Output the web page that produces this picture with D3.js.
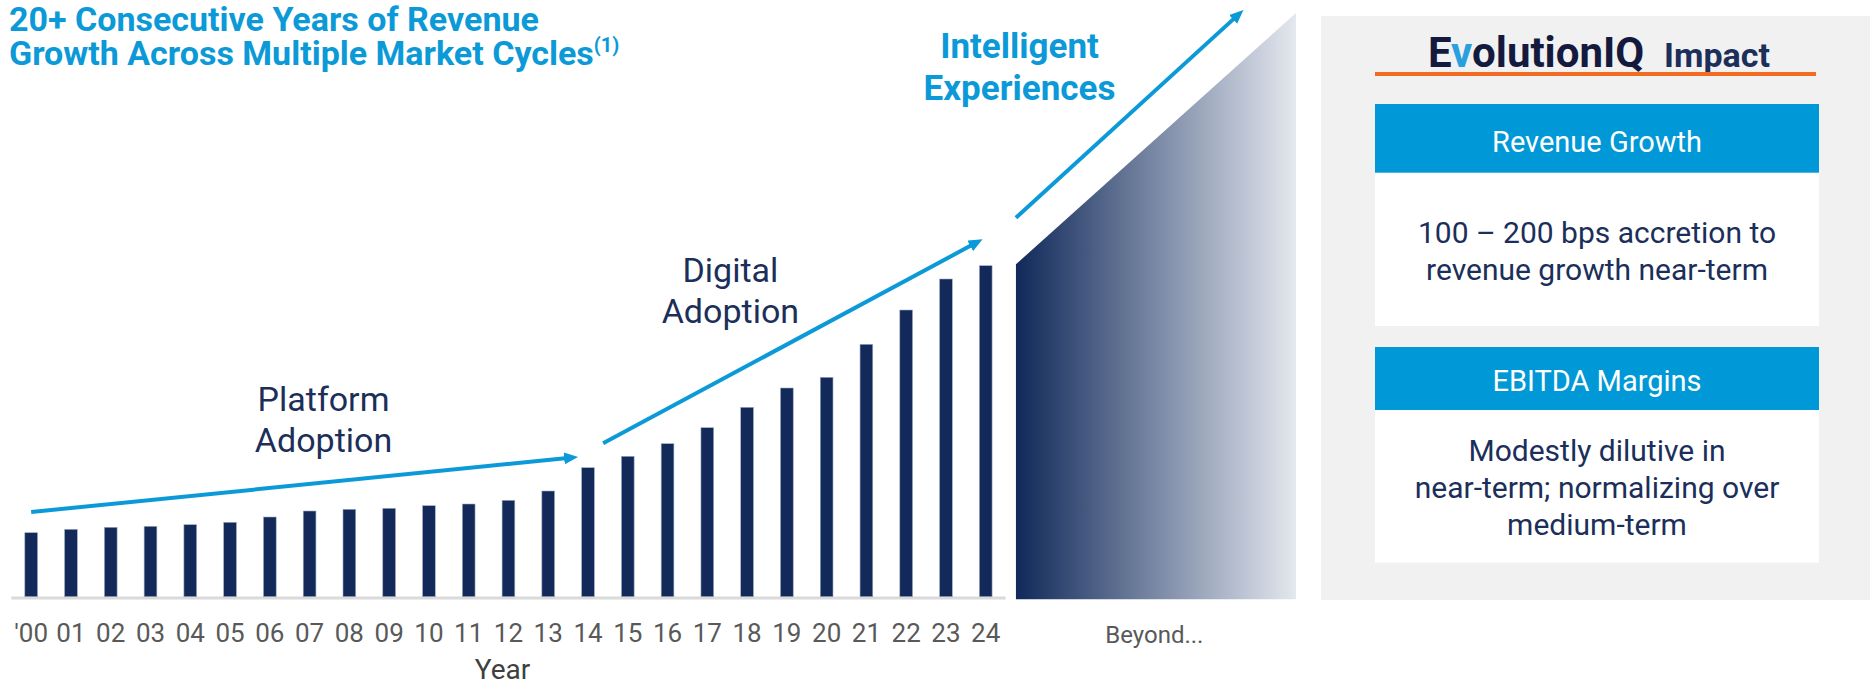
<!DOCTYPE html>
<html>
<meta charset="utf-8">
<head>
<style>
body { margin: 0; background: #fff; }
svg text { font-family: Roboto, "Open Sans", sans-serif; }
.yearTick text { fill: #595959; font-size: 26px; }
.phase { fill: #1b2f5a; font-size: 34px; text-anchor: middle; }
.panelText { fill: #1b2f5a; font-size: 30px; text-anchor: middle; }
.headText { fill: #fff; font-size: 29px; text-anchor: middle; }
</style>
</head>
<body>
<script src="https://cdn.jsdelivr.net/npm/d3@7"></script>
<script>

// revenue index by year
var years = ["'00", "01", "02", "03", "04", "05", "06", "07", "08", "09", "10", "11", "12",
             "13", "14", "15", "16", "17", "18", "19", "20", "21", "22", "23", "24"];
var revenue = [64, 67.4, 69.4, 70.4, 72, 74.4, 79.7, 85.7, 87.4, 88.4, 91, 92.7, 96.4,
               105.7, 129, 140.4, 153, 169, 189.4, 208.7, 219.4, 252.4, 286.7, 317.7, 331];
var phaseLines = [["Platform", "Adoption"], ["Digital", "Adoption"], ["Intelligent", "Experiences"]];
var titleLines = ["20+ Consecutive Years of Revenue", "Growth Across Multiple Market Cycles"];
var impactHeads = ["Revenue Growth", "EBITDA Margins"];
var impactBodies = [["100 \u2013 200 bps accretion to", "revenue growth near-term"],
                    ["Modestly dilutive in", "near-term; normalizing over", "medium-term"]];

var navy = "#12295a", blue = "#0b9ad7";

var svg = d3.select("body").append("svg")
    .attr("width", 1870)
    .attr("height", 686);

var defs = svg.append("defs");
var grad = defs.append("linearGradient").attr("id", "beyondGrad")
    .attr("x1", "0%").attr("x2", "100%").attr("y1", "0%").attr("y2", "0%");
grad.append("stop").attr("offset", "0%").attr("stop-color", "#10295a");
grad.append("stop").attr("offset", "100%").attr("stop-color", "#e4e8ef");

defs.append("marker").attr("id", "head")
    .attr("viewBox", "0 0 14 12")
    .attr("markerWidth", 14).attr("markerHeight", 12)
    .attr("markerUnits", "userSpaceOnUse")
    .attr("refX", 6).attr("refY", 6)
    .attr("orient", "auto")
  .append("path")
    .attr("d", "M0,0 L14,6 L0,12 Z")
    .attr("fill", blue);

// scales
var x = d3.scaleBand()
    .domain(years)
    .range([11.3, 1005.6])
    .paddingInner(0.68)
    .paddingOuter(0.34);

var y = d3.scaleLinear()
    .domain([0, 350])
    .range([596.7, 246.7]);

// year index -> bar centre, used for annotations beyond the bars
var xi = d3.scaleLinear()
    .domain([0, years.length - 1])
    .range([x(years[0]) + x.bandwidth() / 2, x(years[years.length - 1]) + x.bandwidth() / 2]);

// title
var title = svg.append("text")
    .attr("fill", blue)
    .style("font-weight", 700)
    .style("font-size", "34px");
title.append("tspan").attr("x", 9).attr("y", 31).text(titleLines[0]);
title.append("tspan").attr("x", 9).attr("y", 65).text(titleLines[1]);
title.append("tspan").attr("dy", -13).style("font-size", "20px").text("(1)");

// beyond block
svg.append("path")
    .attr("d", d3.line()([
      [xi(24.76), y(-2.6)], [xi(24.76), y(332.4)],
      [xi(31.8), y(583.7)], [xi(31.8), y(-2.6)]
    ]) + "Z")
    .attr("fill", "url(#beyondGrad)");

// baseline
svg.append("line")
    .attr("x1", x.range()[0]).attr("x2", x.range()[1])
    .attr("y1", y(0) + 1.3).attr("y2", y(0) + 1.3)
    .attr("stroke", "#dadada")
    .attr("stroke-width", 3);

// bars
svg.append("g").selectAll("rect")
    .data(revenue)
  .enter().append("rect")
    .attr("x", function(d, i) { return x(years[i]); })
    .attr("y", function(d) { return y(d); })
    .attr("width", x.bandwidth())
    .attr("height", function(d) { return y(0) - y(d); })
    .attr("fill", navy)
    .attr("stroke", "#9fadc2")
    .attr("stroke-width", 0.6);

// x axis
var xAxis = svg.append("g")
    .attr("class", "yearTick")
    .attr("transform", "translate(0," + y(0) + ")")
    .call(d3.axisBottom(x).tickSize(0).tickPadding(27));
xAxis.select(".domain").remove();
xAxis.selectAll("text").style("font-family", "Roboto");

svg.append("text")
    .attr("x", xi(11.85))
    .attr("y", 679)
    .attr("text-anchor", "middle")
    .attr("fill", "#3f3f3f")
    .style("font-size", "28px")
    .text("Year");

svg.append("text")
    .attr("x", xi(28.24))
    .attr("y", 643)
    .attr("text-anchor", "middle")
    .attr("fill", "#595959")
    .style("font-size", "24px")
    .text("Beyond...");

// trend arrows (start index/value -> tip index/value)
var arrows = [
  [[0, 84.7], [13.75, 139.7]],
  [[14.38, 153.4], [23.92, 357.4]],
  [[24.76, 379], [30.48, 586.7]]
];
arrows.forEach(function(a) {
  var x0 = xi(a[0][0]), y0 = y(a[0][1]), x1 = xi(a[1][0]), y1 = y(a[1][1]);
  var len = Math.hypot(x1 - x0, y1 - y0);
  var k = (len - 8) / len;
  svg.append("line")
      .attr("x1", x0).attr("y1", y0)
      .attr("x2", x0 + (x1 - x0) * k).attr("y2", y0 + (y1 - y0) * k)
      .attr("stroke", blue)
      .attr("stroke-width", 4)
      .attr("marker-end", "url(#head)");
});

// phase labels
var phasePos = [[7.35, 186, 144.7], [17.58, 314.4, 274], [24.85, 538.4, 496.7]];
phaseLines.forEach(function(p, i) {
  var t = svg.append("text").attr("class", "phase");
  if (i == 2) t.attr("fill", blue).style("fill", blue).style("font-weight", 700).style("font-size", "35px");
  t.append("tspan").attr("x", xi(phasePos[i][0])).attr("y", y(phasePos[i][1])).text(p[0]);
  t.append("tspan").attr("x", xi(phasePos[i][0])).attr("y", y(phasePos[i][2])).text(p[1]);
});

// right panel
var panel = svg.append("g");
panel.append("rect")
    .attr("x", 1321).attr("y", 16)
    .attr("width", 549).attr("height", 584)
    .attr("fill", "#f1f1f1");

var logo = panel.append("text")
    .attr("x", 1428).attr("y", 67)
    .attr("fill", "#141a3e")
    .style("font-weight", 700)
    .style("font-size", "42px");
logo.append("tspan").text("E");
logo.append("tspan").attr("fill", "#2a9fe0").text("v");
logo.append("tspan").text("olutionIQ");

panel.append("text")
    .attr("x", 1664).attr("y", 67)
    .attr("fill", "#1b2f5a")
    .style("font-weight", 700)
    .style("font-size", "34px")
    .text("Impact");

panel.append("rect")
    .attr("x", 1375).attr("y", 72)
    .attr("width", 441).attr("height", 4)
    .attr("fill", "#f26b21");

var boxes = [
  {top: 104, head: 68.7, bottom: 326, headBase: 151.7, lines: [243.3, 280]},
  {top: 347, head: 63, bottom: 562.7, headBase: 390.7, lines: [461, 498.3, 535]}
];
boxes.forEach(function(b, i) {
  panel.append("rect")
      .attr("x", 1375).attr("y", b.top)
      .attr("width", 444).attr("height", b.bottom - b.top)
      .attr("fill", "#fff");
  panel.append("rect")
      .attr("x", 1375).attr("y", b.top)
      .attr("width", 444).attr("height", b.head)
      .attr("fill", "#0098d6");
  panel.append("text")
      .attr("class", "headText")
      .attr("x", 1597).attr("y", b.headBase)
      .text(impactHeads[i]);
  impactBodies[i].forEach(function(l, j) {
    panel.append("text")
        .attr("class", "panelText")
        .attr("x", 1597).attr("y", b.lines[j])
        .text(l);
  });
});

</script>
</body>
</html>
